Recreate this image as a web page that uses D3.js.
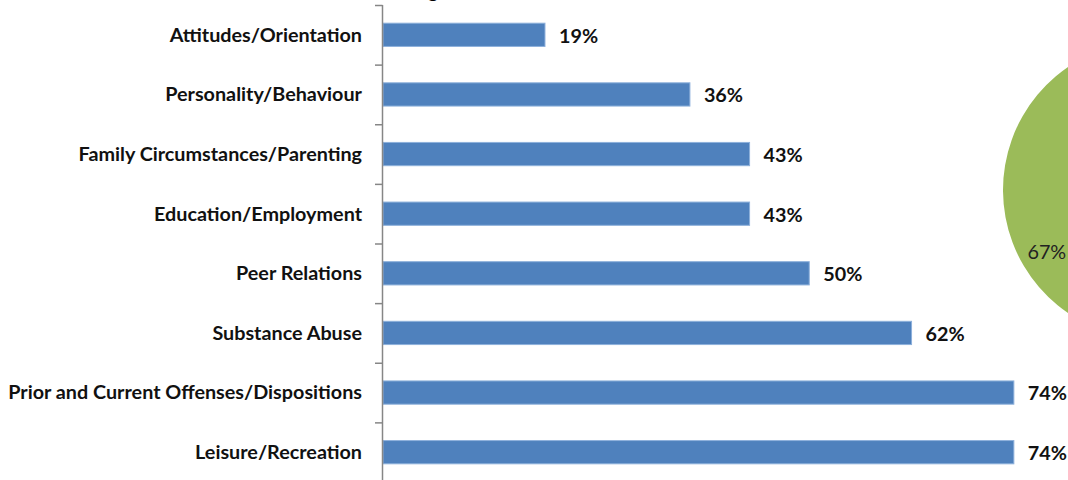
<!DOCTYPE html>
<html>
<head>
<meta charset="utf-8">
<script src="https://cdn.jsdelivr.net/npm/d3@7"></script>
<style>
  html, body { margin: 0; padding: 0; background: #fff; overflow: hidden; }
  svg { display: block; }
</style>
</head>
<body>
<svg id="chart" width="1068" height="480"></svg>
<script>
// Domains and their share of youth rated moderate/high
const categories = [
  "Attitudes/Orientation",
  "Personality/Behaviour",
  "Family Circumstances/Parenting",
  "Education/Employment",
  "Peer Relations",
  "Substance Abuse",
  "Prior and Current Offenses/Dispositions",
  "Leisure/Recreation"
];
const values = [0.19, 0.36, 0.43, 0.43, 0.50, 0.62, 0.74, 0.74];

// Companion pie (only its left side is inside the frame)
const pieLabels = ["33%", "67%"];
const pieValues = [0.33, 0.67];
const pieColors = ["#4F81BD", "#9BBB59"];

const titleText = "Rating";

const W = 1068, H = 480;
const svg = d3.select("#chart");
const font = "Lato, 'Open Sans', sans-serif";

const x = d3.scaleLinear().domain([0, 0.8]).range([383, 1065]);
const y = d3.scaleBand().domain(categories).range([5, 482])
  .paddingInner(0.61).paddingOuter(0.305);

// Title (sits mostly above the top edge)
svg.append("text")
  .attr("x", 438).attr("y", -2.5)
  .attr("text-anchor", "end")
  .attr("font-family", font).attr("font-weight", 700).attr("font-size", 19)
  .attr("fill", "#000")
  .text(titleText);

// Bars
svg.append("g").selectAll("rect")
  .data(values)
  .join("rect")
  .attr("x", x(0))
  .attr("y", (d, i) => y(categories[i]))
  .attr("width", d => x(d) - x(0))
  .attr("height", y.bandwidth())
  .attr("fill", "#4F81BD")
  .attr("stroke", "#8DB0DB")
  .attr("stroke-width", 1);

// Category axis with ticks on band boundaries
const step = y.step();
const start = y.range()[0];
const axisG = svg.append("g");
axisG.append("line")
  .attr("x1", 382.5).attr("x2", 382.5)
  .attr("y1", start).attr("y2", H)
  .attr("stroke", "#868686").attr("stroke-width", 1.5);
axisG.selectAll("line.tick")
  .data(d3.range(categories.length + 1))
  .join("line")
  .attr("class", "tick")
  .attr("x1", 375).attr("x2", 382.5)
  .attr("y1", i => start + i * step + 0.5)
  .attr("y2", i => start + i * step + 0.5)
  .attr("stroke", "#868686").attr("stroke-width", 1.5);

// Category labels
const catLabels = svg.append("g").selectAll("text")
  .data(categories)
  .join("text")
  .attr("x", 362)
  .attr("y", d => y(d) + y.bandwidth() / 2)
  .attr("dy", "0.35em")
  .attr("text-anchor", "end")
  .attr("font-family", font).attr("font-weight", 700).attr("font-size", 17)
  .attr("fill", "#111")
  .text(d => d);

// Fit the label size so the longest label spans its column
const longest = d3.max(catLabels.nodes(), n => n.getComputedTextLength());
const fitted = 17 * 354 / longest;
catLabels.attr("font-size", fitted);

// Value labels
svg.append("g").selectAll("text")
  .data(values)
  .join("text")
  .attr("x", d => x(d) + 14)
  .attr("y", (d, i) => y(categories[i]) + y.bandwidth() / 2 + 1)
  .attr("dy", "0.35em")
  .attr("font-family", font).attr("font-weight", 700).attr("font-size", fitted)
  .attr("fill", "#111")
  .text(d => Math.round(d * 100) + "%");

// Pie
const cx = 1152, cy = 190, r = 149;
const pie = d3.pie().sort(null).value(d => d)(pieValues);
const arc = d3.arc().innerRadius(0).outerRadius(r);
const labelArc = d3.arc().innerRadius(r * 0.82).outerRadius(r * 0.82);
const pg = svg.append("g").attr("transform", `translate(${cx},${cy})`);
pg.selectAll("path")
  .data(pie)
  .join("path")
  .attr("d", arc)
  .attr("fill", (d, i) => pieColors[i]);
pg.selectAll("text")
  .data(pie)
  .join("text")
  .attr("transform", d => `translate(${labelArc.centroid(d)})`)
  .attr("text-anchor", "middle")
  .attr("dy", "0.35em")
  .attr("font-family", font).attr("font-size", fitted)
  .attr("fill", "#222")
  .text((d, i) => pieLabels[i]);
</script>
</body>
</html>
